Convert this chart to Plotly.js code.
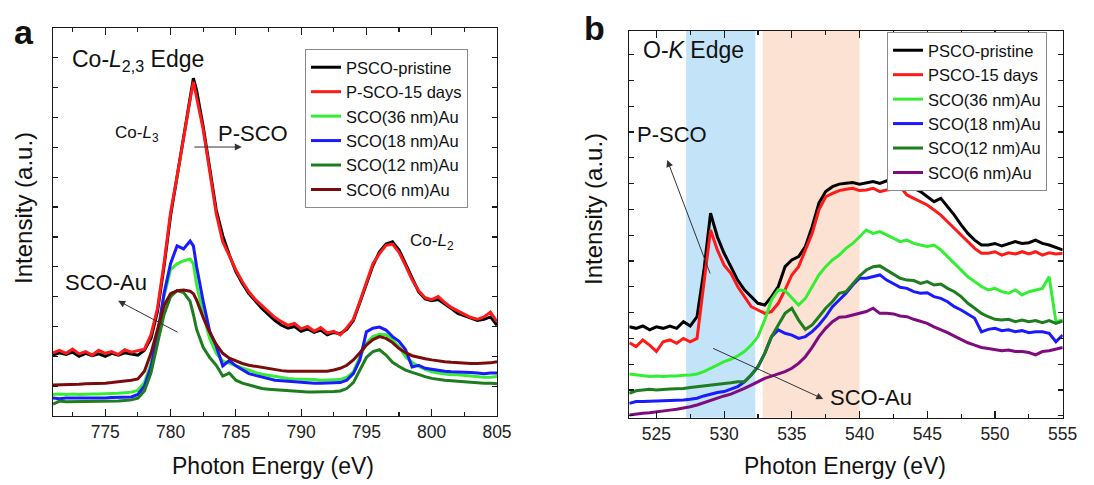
<!DOCTYPE html>
<html>
<head>
<meta charset="utf-8">
<script src="https://cdn.plot.ly/plotly-3.0.1.min.js"></script>
<style>html,body{margin:0;padding:0;background:#fff}#chart{width:1094px;height:485px}</style>
</head>
<body>
<div id="chart"></div>
<script>
// ---------- Panel a : Co-L2,3 edge ----------
const energyCo = [771,771.5,772,772.5,773,773.5,774,774.5,775,775.5,
 776,776.5,777,777.5,778,778.5,779,779.5,780,780.5,
 781,781.5,781.75,782,782.5,783,783.5,784,784.5,785,
 785.5,786,786.5,787,787.5,788,788.5,789,789.5,790,
 790.5,791,791.5,792,792.5,793,793.5,794,794.5,795,
 795.5,796,796.5,797,797.5,798,798.5,799,799.5,800,
 800.5,801,801.5,802,802.5,803,803.5,804,804.5,805];

const coPristine = [1.02,1.06,1.03,1.07,1.00,1.05,1.01,1.04,1.00,1.05,
 1.02,1.06,1.04,1.02,1.10,1.30,1.75,2.50,3.35,4.00,
 4.70,5.35,5.66,5.45,4.85,4.15,3.45,3.02,2.70,2.42,
 2.22,2.05,1.93,1.80,1.70,1.60,1.52,1.47,1.50,1.42,
 1.46,1.40,1.44,1.36,1.40,1.38,1.45,1.60,1.90,2.20,
 2.52,2.75,2.88,2.92,2.78,2.55,2.30,2.08,1.96,1.93,
 1.95,1.88,1.80,1.72,1.68,1.63,1.60,1.62,1.66,1.52];
const co15days = [1.06,1.10,1.05,1.12,1.04,1.08,1.02,1.10,1.05,1.08,
 1.03,1.11,1.07,1.10,1.12,1.36,1.80,2.55,3.40,4.01,
 4.68,5.30,5.60,5.35,4.80,4.10,3.39,2.92,2.68,2.45,
 2.25,2.08,1.95,1.85,1.74,1.65,1.58,1.52,1.55,1.46,
 1.50,1.42,1.48,1.39,1.42,1.36,1.48,1.62,1.92,2.22,
 2.55,2.72,2.86,2.88,2.74,2.52,2.28,2.10,1.98,1.95,
 2.00,1.90,1.82,1.76,1.70,1.65,1.62,1.66,1.74,1.58];
const co36nm = [0.36,0.37,0.36,0.37,0.36,0.37,0.37,0.37,0.37,0.38,
 0.38,0.39,0.40,0.43,0.56,0.88,1.38,2.00,2.45,2.55,
 2.60,2.63,2.55,2.20,1.70,1.30,1.05,0.92,0.88,0.84,
 0.80,0.76,0.73,0.70,0.68,0.66,0.64,0.63,0.62,0.62,
 0.61,0.61,0.60,0.60,0.60,0.61,0.65,0.74,0.99,1.22,
 1.33,1.37,1.36,1.27,1.16,0.99,0.90,0.83,0.78,0.74,
 0.72,0.70,0.69,0.69,0.68,0.67,0.65,0.65,0.65,0.66];
const co18nm = [0.30,0.29,0.30,0.30,0.29,0.30,0.30,0.30,0.30,0.31,
 0.31,0.31,0.32,0.36,0.50,0.82,1.35,2.05,2.55,2.85,
 2.80,2.93,2.85,2.50,1.92,1.42,1.17,0.84,0.93,0.84,
 0.77,0.71,0.68,0.65,0.62,0.60,0.59,0.58,0.57,0.56,
 0.55,0.55,0.55,0.55,0.55,0.56,0.60,0.71,0.94,1.41,
 1.47,1.49,1.44,1.33,1.25,1.11,0.82,0.85,0.80,0.78,
 0.76,0.75,0.74,0.74,0.73,0.73,0.72,0.71,0.72,0.72];
const co12nm = [0.20,0.25,0.24,0.24,0.24,0.24,0.24,0.24,0.24,0.25,
 0.25,0.26,0.27,0.30,0.42,0.72,1.20,1.70,2.00,2.10,
 2.07,1.92,1.70,1.45,1.15,0.98,0.85,0.67,0.72,0.60,
 0.55,0.52,0.49,0.46,0.45,0.44,0.43,0.42,0.41,0.40,
 0.40,0.40,0.40,0.40,0.41,0.42,0.46,0.56,0.77,0.98,
 1.08,1.11,1.02,0.90,0.83,0.77,0.73,0.69,0.66,0.63,
 0.61,0.60,0.59,0.58,0.57,0.56,0.56,0.55,0.55,0.54];
const co6nm = [0.52,0.52,0.53,0.53,0.53,0.54,0.54,0.55,0.55,0.56,
 0.57,0.58,0.60,0.62,0.75,1.05,1.45,1.85,2.05,2.10,
 2.11,2.09,2.05,1.94,1.65,1.40,1.20,1.05,0.97,0.92,
 0.88,0.85,0.83,0.81,0.79,0.77,0.76,0.75,0.75,0.74,
 0.74,0.74,0.74,0.75,0.77,0.80,0.85,0.94,1.06,1.19,
 1.28,1.33,1.30,1.23,1.13,1.06,1.01,0.98,0.96,0.94,
 0.92,0.91,0.90,0.89,0.88,0.88,0.88,0.88,0.89,0.91];

// ---------- Panel b : O-K edge ----------
const energyO = [523,523.5,524,524.5,525,525.5,526,526.5,527,527.5,
 528,528.5,529,529.5,530,530.5,531,531.5,532,532.5,
 533,533.5,534,534.5,535,535.5,536,536.5,537,537.5,
 538,538.5,539,539.5,540,540.5,541,541.5,542,542.5,
 543,543.5,544,544.5,545,545.5,546,546.5,547,547.5,
 548,548.5,549,549.5,550,550.5,551,551.5,552,552.5,
 553,553.5,554,554.5,555];

const oPristine = [3.45,3.39,3.48,3.33,3.45,3.39,3.48,3.39,3.65,3.48,
 3.84,5.60,7.85,6.94,6.30,5.78,5.26,4.88,4.62,4.36,
 4.29,4.62,5.01,5.78,6.04,6.17,6.56,7.33,8.24,8.69,
 8.88,8.98,9.01,9.04,8.98,9.04,9.08,9.01,9.11,9.04,
 9.04,8.88,8.82,8.69,8.49,8.30,8.43,8.11,7.78,7.40,
 7.07,6.81,6.62,6.62,6.68,6.58,6.66,6.75,6.68,6.71,
 6.81,6.68,6.62,6.53,6.43];
const o15days = [2.83,2.68,2.94,2.74,2.49,2.87,2.94,2.81,3.00,2.87,
 3.00,5.10,7.20,6.43,5.84,5.52,5.01,4.62,4.23,4.10,
 3.97,4.04,4.36,4.88,5.46,5.78,6.43,7.07,7.98,8.49,
 8.62,8.73,8.78,8.82,8.73,8.75,8.82,8.69,8.75,8.78,
 8.88,8.56,8.43,8.30,8.17,7.98,7.78,7.52,7.27,7.01,
 6.75,6.49,6.30,6.30,6.36,6.23,6.32,6.27,6.36,6.27,
 6.36,6.23,6.32,6.27,6.30];
const o36nm = [1.62,1.58,1.54,1.52,1.54,1.52,1.54,1.54,1.57,1.58,
 1.62,1.71,1.84,1.97,2.10,2.19,2.32,2.49,2.74,3.07,
 3.71,4.49,4.88,4.85,4.55,4.29,4.55,5.01,5.46,5.78,
 6.04,6.23,6.49,6.68,6.94,7.20,7.07,7.14,7.01,6.88,
 6.75,6.81,6.68,6.62,6.56,6.62,6.43,6.17,5.91,5.65,
 5.39,5.20,5.01,4.88,4.94,4.81,4.75,4.88,4.68,4.81,
 4.88,4.94,5.39,3.65,3.71];
const o18nm = [0.48,0.55,0.55,0.56,0.57,0.57,0.59,0.59,0.61,0.64,
 0.68,0.77,0.84,0.90,0.94,1.03,1.13,1.32,1.58,1.90,
 2.42,3.07,3.33,3.20,3.13,3.00,3.07,3.26,3.52,3.84,
 4.23,4.49,4.75,5.07,5.33,5.33,5.39,5.46,5.26,5.13,
 4.98,4.94,4.81,4.75,4.77,4.62,4.55,4.42,4.23,4.10,
 3.95,3.78,3.25,3.35,3.39,3.30,3.33,3.26,3.30,3.22,
 3.26,3.26,3.20,2.87,3.13];
const o12nm = [0.87,0.97,1.00,1.03,1.00,1.03,1.04,1.05,1.06,1.10,
 1.13,1.16,1.18,1.21,1.23,1.28,1.32,1.32,1.58,1.90,
 2.42,3.07,3.52,3.97,4.17,3.71,3.35,3.52,3.84,4.17,
 4.43,4.75,4.81,5.13,5.42,5.65,5.78,5.81,5.65,5.52,
 5.33,5.26,5.24,5.13,5.20,5.07,5.11,4.94,4.81,4.62,
 4.36,4.17,3.97,3.84,3.74,3.71,3.74,3.65,3.71,3.65,
 3.69,3.61,3.69,3.58,3.67];
const o6nm = [0.03,0.07,0.10,0.12,0.16,0.19,0.22,0.25,0.29,0.35,
 0.42,0.51,0.59,0.68,0.77,0.84,0.94,1.06,1.19,1.32,
 1.45,1.54,1.62,1.71,1.84,2.03,2.29,2.65,3.07,3.39,
 3.65,3.82,3.84,3.91,3.97,4.04,4.17,3.97,3.97,3.95,
 3.87,3.84,3.74,3.65,3.58,3.45,3.35,3.22,3.09,2.96,
 2.83,2.74,2.65,2.61,2.55,2.52,2.55,2.49,2.49,2.45,
 2.36,2.49,2.52,2.58,2.65];

// shaded energy windows in panel b
const bandBlue = [527.2, 532.3];
const bandOrange = [532.85, 540.0];

const namesA = ['PSCO-pristine','P-SCO-15 days','SCO(36 nm)Au','SCO(18 nm)Au','SCO(12 nm)Au','SCO(6 nm)Au'];
const namesB = ['PSCO-pristine','PSCO-15 days','SCO(36 nm)Au','SCO(18 nm)Au','SCO(12 nm)Au','SCO(6 nm)Au'];
const colorsA = ['#000000','#ff1a1a','#33ee33','#1a1aff','#1e7d1e','#7a0c0c'];
const colorsB = ['#000000','#ff1a1a','#33ee33','#1a1aff','#1e7d1e','#800a80'];

const W = 1094, H = 485;
const fx = p => p / W;
const fy = p => 1 - p / H;
const FONT = 'Liberation Sans, Arial, Helvetica, sans-serif';
const INK = '#1a1a1a';

const seriesA = [coPristine, co15days, co36nm, co18nm, co12nm, co6nm];
const seriesB = [oPristine, o15days, o36nm, o18nm, o12nm, o6nm];

const traces = [];
seriesA.forEach((ys, i) => traces.push({
  x: energyCo, y: ys, type: 'scatter', mode: 'lines', name: namesA[i],
  line: {color: colorsA[i], width: 3}, xaxis: 'x', yaxis: 'y', legend: 'legend'
}));
seriesB.forEach((ys, i) => traces.push({
  x: energyO, y: ys, type: 'scatter', mode: 'lines', name: namesB[i],
  line: {color: colorsB[i], width: 3}, xaxis: 'x2', yaxis: 'y2', legend: 'legend2'
}));

const axisBase = {
  showline: true, linecolor: INK, linewidth: 1.3, mirror: 'ticks',
  ticks: 'inside', tickcolor: INK, tickwidth: 1.2, zeroline: false, showgrid: false,
  fixedrange: true, tickfont: {family: FONT, size: 17.5, color: '#222'}
};

const legendBase = {
  xanchor: 'left', yanchor: 'top', bgcolor: '#ffffff', bordercolor: '#8a8a8a',
  borderwidth: 1, font: {family: FONT, size: 16.5, color: '#111'}, tracegroupgap: 0
};

function txt(text, xref, yref, x, y, size, extra) {
  return Object.assign({text: text, xref: xref, yref: yref, x: x, y: y, showarrow: false,
    xanchor: 'left', yanchor: 'middle', font: {family: FONT, size: size, color: '#111'}}, extra || {});
}
function arrow(xr, yr, hx, hy, tx, ty) {
  return {text: '', xref: xr, yref: yr, axref: xr, ayref: yr, x: hx, y: hy, ax: tx, ay: ty,
    showarrow: true, arrowhead: 2, arrowsize: 1.4, arrowwidth: 1, arrowcolor: '#333'};
}

const layout = {
  width: W, height: H, margin: {l: 0, r: 0, t: 0, b: 0},
  paper_bgcolor: '#ffffff', plot_bgcolor: 'rgba(0,0,0,0)', showlegend: true,
  xaxis: Object.assign({}, axisBase, {domain: [fx(53), fx(497)], range: [771, 805], tick0: 775, dtick: 5, ticklen: 7,
    minor: {dtick: 2.5, ticks: 'inside', ticklen: 4, tickcolor: INK, tickwidth: 1.2}, anchor: 'y'}),
  yaxis: Object.assign({}, axisBase, {domain: [fy(416), fy(28)], range: [0, 6.5], tick0: 0, dtick: 0.5, ticklen: 5,
    showticklabels: false, anchor: 'x'}),
  xaxis2: Object.assign({}, axisBase, {domain: [fx(629.3), fx(1062.7)], range: [523, 555], tick0: 525, dtick: 5, ticklen: 7,
    minor: {dtick: 2.5, ticks: 'inside', ticklen: 4, tickcolor: INK, tickwidth: 1.2}, anchor: 'y2'}),
  yaxis2: Object.assign({}, axisBase, {domain: [fy(417.7), fy(31)], range: [-0.074, 14.915], tick0: 1, dtick: 1, ticklen: 5,
    showticklabels: false, anchor: 'x2'}),
  legend: Object.assign({}, legendBase, {x: fx(305), y: fy(49)}),
  legend2: Object.assign({}, legendBase, {x: fx(887), y: fy(32)}),
  shapes: [
    {type: 'rect', xref: 'x2', yref: 'y2 domain', x0: bandBlue[0], x1: bandBlue[1], y0: 0, y1: 1,
     fillcolor: '#c3e4f8', line: {width: 0}, layer: 'below'},
    {type: 'rect', xref: 'x2', yref: 'y2 domain', x0: bandOrange[0], x1: bandOrange[1], y0: 0, y1: 1,
     fillcolor: '#fbe2d2', line: {width: 0}, layer: 'below'}
  ],
  annotations: [
    // panel letters
    txt('<b>a</b>', 'paper', 'paper', fx(12), fy(32), 34),
    txt('<b>b</b>', 'paper', 'paper', fx(582), fy(28), 34),
    // axis titles
    txt('Photon Energy (eV)', 'paper', 'paper', fx(273), fy(466), 23, {xanchor: 'center'}),
    txt('Photon Energy (eV)', 'paper', 'paper', fx(845), fy(466), 23, {xanchor: 'center'}),
    txt('Intensity (a.u.)', 'paper', 'paper', fx(23), fy(208), 24, {xanchor: 'center', textangle: -90}),
    txt('Intensity (a.u.)', 'paper', 'paper', fx(593), fy(209), 24, {xanchor: 'center', textangle: -90}),
    // panel a labels
    txt('Co-<i>L</i><sub>2,3</sub> Edge', 'x', 'y', 772.3, 5.95, 23),
    txt('Co-<i>L</i><sub>3</sub>', 'x', 'y', 775.6, 4.72, 17),
    txt('P-SCO', 'x', 'y', 783.5, 4.74, 22),
    txt('Co-<i>L</i><sub>2</sub>', 'x', 'y', 798.2, 2.92, 17),
    txt('SCO-Au', 'x', 'y', 771.8, 2.23, 22),
    arrow('x', 'y', 785.46, 4.506, 781.71, 4.506),
    arrow('x', 'y', 775.99, 1.93, 780.66, 1.39),
    // panel b labels
    txt('O-<i>K</i> Edge', 'x2', 'y2', 523.9, 14.18, 23),
    txt('P-SCO', 'x2', 'y2', 523.42, 10.92, 22),
    txt('SCO-Au', 'x2', 'y2', 537.69, 0.72, 22),
    arrow('x2', 'y2', 525.80, 9.915, 529.01, 5.457),
    arrow('x2', 'y2', 537.32, 0.651, 529.08, 2.64)
  ]
};

Plotly.newPlot('chart', traces, layout, {displayModeBar: false, staticPlot: true});
</script>
</body>
</html>
